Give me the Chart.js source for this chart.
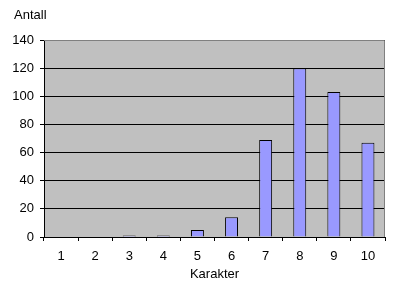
<!DOCTYPE html>
<html>
<head>
<meta charset="utf-8">
<script src="https://cdn.jsdelivr.net/npm/chart.js@4.4.0/dist/chart.umd.min.js"></script>
<style>
  html, body { margin: 0; padding: 0; background: #fff; }
  #wrap { width: 400px; height: 292px; position: relative; }
</style>
</head>
<body>
<div id="wrap"><canvas id="graf"></canvas></div>
<script>
// data lest av bildet
const karakterer = ['1', '2', '3', '4', '5', '6', '7', '8', '9', '10'];
const antall = [0, 0, 1, 1, 5, 14, 69, 120, 103, 67];
const yTicks = [0, 20, 40, 60, 80, 100, 120, 140];
const yTittel = 'Antall';
const xTittel = 'Karakter';

const FONT = 'Liberation Sans, Arial, sans-serif';

// grå bakgrunn i plottområdet + grå ramme oppe og til høyre
const plotBakgrunn = {
    id: 'plotBakgrunn',
    beforeDraw(chart) {
        const { ctx, chartArea: a } = chart;
        ctx.save();
        ctx.fillStyle = '#c0c0c0';
        ctx.fillRect(a.left, a.top, a.right - a.left, a.bottom - a.top);
        ctx.restore();
    },
    afterDraw(chart) {
        const { ctx, chartArea: a } = chart;
        ctx.save();
        ctx.strokeStyle = '#808080';
        ctx.lineWidth = 1;
        ctx.beginPath();
        ctx.moveTo(a.left, a.top + 0.5);
        ctx.lineTo(a.right - 0.5, a.top + 0.5);
        ctx.lineTo(a.right - 0.5, a.bottom);
        ctx.stroke();
        // y-tittel over aksen
        ctx.fillStyle = '#000';
        ctx.font = '13px ' + FONT;
        ctx.textBaseline = 'alphabetic';
        ctx.textAlign = 'left';
        ctx.fillText(yTittel, 14, 19);
        ctx.restore();
    }
};

new Chart(document.getElementById('graf'), {
    type: 'bar',
    data: {
        labels: karakterer,
        datasets: [{
            data: antall,
            backgroundColor: '#9999ff',
            borderColor: '#000',
            borderWidth: 1,
            barPercentage: 0.38,
            categoryPercentage: 1
        }]
    },
    options: {
        responsive: true,
        maintainAspectRatio: false,
        animation: false,
        layout: { padding: { top: 40, right: 15, left: 0, bottom: 0 } },
        plugins: {
            legend: { display: false },
            tooltip: { enabled: false }
        },
        scales: {
            x: {
                grid: {
                    drawOnChartArea: false,
                    drawTicks: true,
                    tickLength: 4,
                    color: '#000',
                    offset: true
                },
                border: { color: '#000', width: 1 },
                ticks: {
                    color: '#000',
                    font: { family: FONT, size: 13 },
                    padding: 8,
                    maxRotation: 0
                },
                title: {
                    display: true,
                    text: xTittel,
                    color: '#000',
                    font: { family: FONT, size: 13 },
                    padding: { top: 0, bottom: 10 }
                },
                afterFit(scale) { scale.height = 55; }
            },
            y: {
                min: 0,
                max: 140,
                afterBuildTicks(scale) {
                    scale.ticks = yTicks.map(v => ({ value: v }));
                },
                grid: {
                    color: '#000',
                    drawTicks: true,
                    tickLength: 4
                },
                border: { color: '#000', width: 1 },
                ticks: {
                    color: '#000',
                    font: { family: FONT, size: 13 },
                    padding: 6
                },
                afterFit(scale) { scale.width = 44; }
            }
        }
    },
    plugins: [plotBakgrunn]
});
</script>
</body>
</html>
